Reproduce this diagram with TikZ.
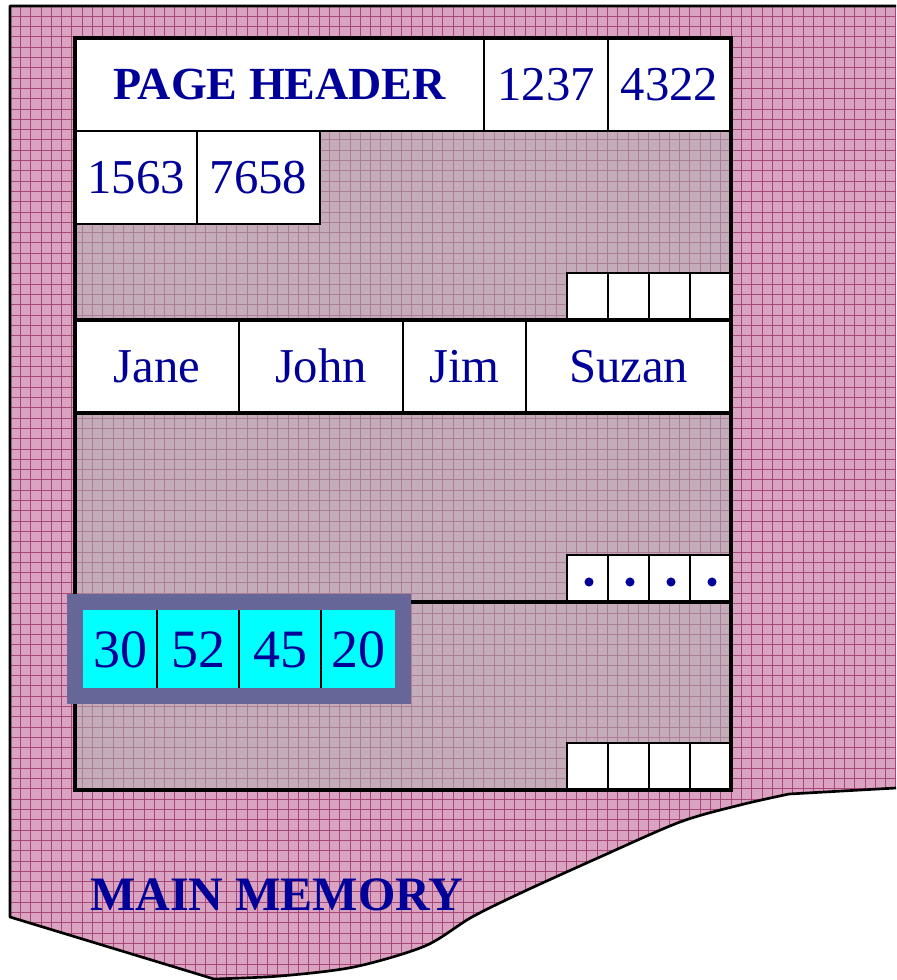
\documentclass[tikz,border=0pt]{standalone}
\usepackage{fontspec}
\setmainfont{Liberation Serif}
\definecolor{pinkbg}{RGB}{218,163,193}
\definecolor{gridc}{RGB}{168,72,120}
\definecolor{overlayc}{RGB}{178,182,182}
\definecolor{txtblue}{RGB}{0,0,153}
\definecolor{framec}{RGB}{102,102,153}
\definecolor{cyanc}{RGB}{0,255,255}
\tikzset{
  cellbox/.style={draw=black, line width=1.2pt, fill=white, inner sep=0pt, outer sep=0pt, text=txtblue},
  numtxt/.style={font=\fontsize{36.5}{40}\selectfont, text height=24.6pt, text depth=0pt},
  headtxt/.style={font=\bfseries\fontsize{34.5}{38}\selectfont, text height=22.8pt, text depth=0pt},
  bigtxt/.style={font=\fontsize{40.5}{44}\selectfont, text height=27.4pt, text depth=0pt},
  cyancell/.style={fill=cyanc, inner sep=0pt, outer sep=0pt, text=txtblue},
  dotn/.style={circle, fill=txtblue, inner sep=0pt, minimum size=6.8pt},
  thickline/.style={line width=2.3pt, black},
}
\newcommand\mcell[7]{\node[#2, minimum width={(#5-#3)*0.75pt}, minimum height={(#6-#4)*0.75pt}] (#1) at ({(#3+#5)/2},{(#4+#6)/2}) {#7};}
\def\outline{(896,6) -- (10,6) -- (10,917) -- (214,979) -- plot[smooth, tension=0.5] coordinates {(214,979) (280,976) (354,967) (425,946) (472,917) (525,891) (600,857) (680,822) (740,805) (789,794)} -- (896,788)}
\begin{document}
\begin{tikzpicture}[x=0.75pt, y=-0.75pt]
\useasboundingbox (0,0) rectangle (896,980);
% background memory shape
\fill[pinkbg] \outline -- cycle;
\begin{scope}
  \clip \outline -- cycle;
  \foreach \i in {0,...,87} \draw[gridc, line width=0.6pt] ({10+\i*10.3},0) -- ({10+\i*10.3},980);
  \foreach \j in {0,...,95} \draw[gridc, line width=0.6pt] (0,{6+\j*10.3}) -- (896,{6+\j*10.3});
\end{scope}
\draw[black, line width=2pt, line join=round] \outline;
% page area
\fill[overlayc, opacity=0.5] (75,38) rectangle (731,790);
% header row
\mcell{h0}{cellbox,headtxt}{75}{38}{484}{131}{PAGE HEADER}
\mcell{h1}{cellbox,numtxt}{484}{38}{608}{131}{1237}
\mcell{h2}{cellbox,numtxt}{608}{38}{731}{131}{4322}
% second row
\mcell{r1}{cellbox,numtxt}{75}{131}{197}{224}{1563}
\mcell{r2}{cellbox,numtxt}{197}{131}{320}{224}{7658}
% slots A
\mcell{sa1}{cellbox}{567}{273}{608}{320}{}
\mcell{sa2}{cellbox}{608}{273}{649}{320}{}
\mcell{sa3}{cellbox}{649}{273}{690}{320}{}
\mcell{sa4}{cellbox}{690}{273}{731}{320}{}
% names row
\mcell{n1}{cellbox,numtxt}{75}{320}{239}{413}{Jane}
\mcell{n2}{cellbox,numtxt}{239}{320}{403}{413}{John}
\mcell{n3}{cellbox,numtxt}{403}{320}{526}{413}{Jim}
\mcell{n4}{cellbox,numtxt}{526}{320}{731}{413}{Suzan}
% slots B with dots
\mcell{sb1}{cellbox}{567}{555}{608}{602}{}
\mcell{sb2}{cellbox}{608}{555}{649}{602}{}
\mcell{sb3}{cellbox}{649}{555}{690}{602}{}
\mcell{sb4}{cellbox}{690}{555}{731}{602}{}
\node[dotn] (d1) at (589,582) {};
\node[dotn] (d2) at (630,582) {};
\node[dotn] (d3) at (671,582) {};
\node[dotn] (d4) at (712,582) {};
% slots C
\mcell{sc1}{cellbox}{567}{743}{608}{790}{}
\mcell{sc2}{cellbox}{608}{743}{649}{790}{}
\mcell{sc3}{cellbox}{649}{743}{690}{790}{}
\mcell{sc4}{cellbox}{690}{743}{731}{790}{}
% separators and page border
\draw[thickline] (n1.north west) -- (n4.north east);
\draw[thickline] (n1.south west) -- (n4.south east);
\draw[thickline] (75,602) -- (sb4.south east);
\draw[thickline] (75,38) rectangle (731,790);
% blue record
\mcell{fr}{fill=framec, inner sep=0pt, outer sep=0pt}{67}{594}{411}{704}{}
\mcell{c1}{cyancell,bigtxt}{83}{610}{157}{688}{30}
\mcell{c2}{cyancell,bigtxt}{157}{610}{239}{688}{52}
\mcell{c3}{cyancell,bigtxt}{239}{610}{321}{688}{45}
\mcell{c4}{cyancell,bigtxt}{321}{610}{395}{688}{20}
\draw[black, line width=1.2pt] (c1.north east) -- (c1.south east);
\draw[black, line width=1.2pt] (c2.north east) -- (c2.south east);
\draw[black, line width=1.2pt] (c3.north east) -- (c3.south east);
% label
\node[anchor=base west, inner sep=0pt, text=txtblue, font=\bfseries\fontsize{36}{40}\selectfont] (mm) at (90,910) {MAIN MEMORY};
\end{tikzpicture}
\end{document}
